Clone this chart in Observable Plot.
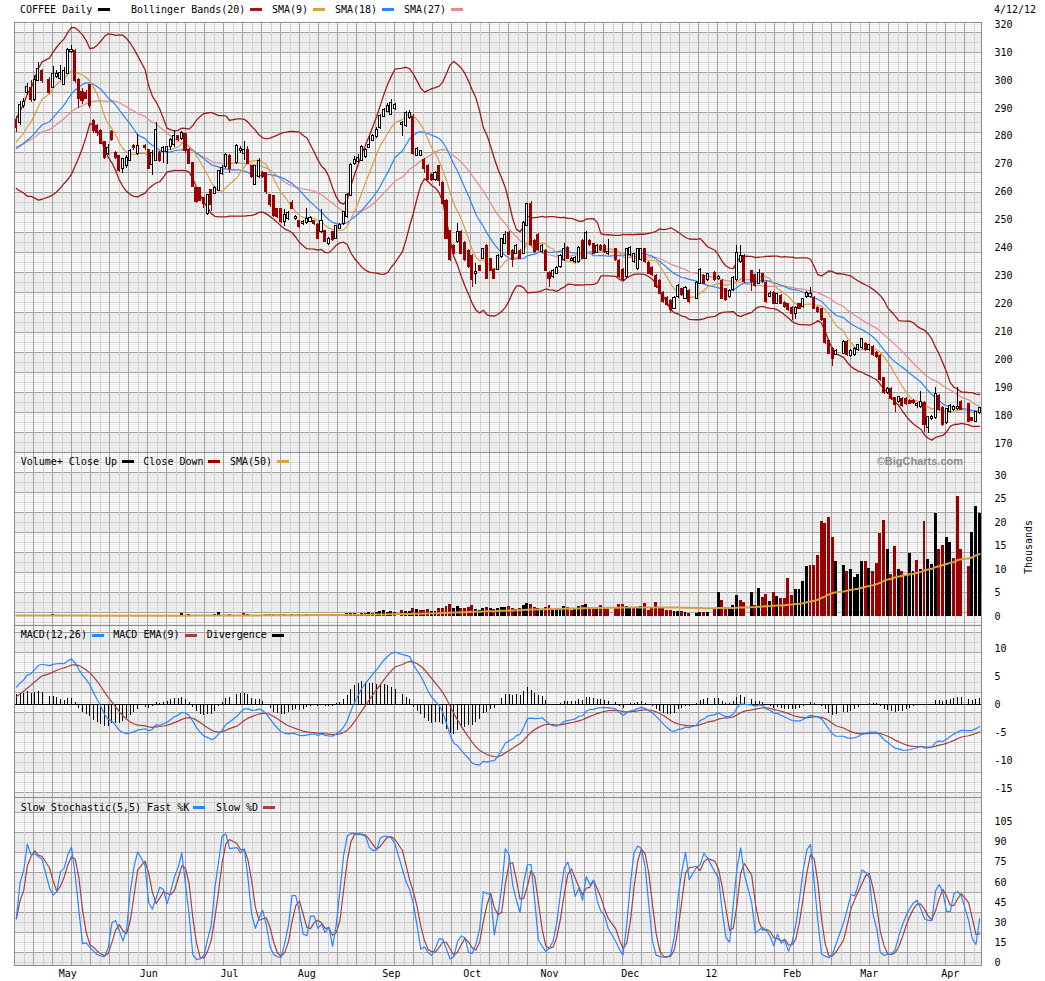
<!DOCTYPE html>
<html>
<head>
<meta charset="utf-8">
<script src="https://cdn.jsdelivr.net/npm/d3@7"></script>
<script src="https://cdn.jsdelivr.net/npm/@observablehq/plot@0.6"></script>
<style>
  body { margin: 0; background: #fff; }
  #chart { position: relative; width: 1045px; height: 981px; font: 10px "DejaVu Sans Mono", monospace; color: #000; }
  #chart svg { position: absolute; left: 0; }
  .lbl { position: absolute; white-space: pre; line-height: 12px; }
  .sw { position: absolute; width: 12px; height: 3px; }
</style>
</head>
<body>
<div id="chart"></div>
<script>
// one slot per weekday, 4/12/11 .. 4/12/12; null = market closed
const opens = [
  285.7, 285, 291, 295.5, 297, 293, 300, 303, null, 300,
  297.6, 301.5, 300.5, 298.6, 302.4, 310.3, 310.5, 300, 295.8, 295.2,
  298.2, 285.1, 283.6, 281.8, 277.9, 274, 281.5, 273.8, 272.6, 268.5,
  269.5, 271.4, 276.5, 273.8, null, 276.5, 274.8, 270, 271.4, 273.8,
  274.5, 274.5, 276.2, 277, 279.8, 279.2, 280.6, 275, 270.2, 261.3,
  261.3, 257.7, 252.4, 260.7, 259.5, 260.7, 266.7, 269, 272.9, null,
  270.5, 274.8, 274, 275, 269, 262.9, 265.5, 266.7, 266.7, 258.9,
  258.3, 253.6, 253.6, 249.4, 250.6, 256, 250.6, 249.4, 248.8, 249,
  249.4, 249.4, 248.2, 245.8, 245.8, 241.7, 245.5, 243.5, 247, 248.8,
  251.2, 258.9, 270.2, 271, 271.4, 272.6, 276, 278.6, 279.8, 283.1,
  287.2, 289, 287.9, 289.9, null, 284.2, 283.9, 286.7, 286.7, 273.2,
  273.2, 271.4, 269.3, 266.1, 264.5, 269, 263.1, 256.6, 245.8, 240.5,
  242.3, 245.5, 241.7, 238.7, 236.9, 230.8, 233.3, 236.3, 240.5, 235.7,
  232.1, 232.4, 236.9, 241.7, 245.2, 238.7, 238.1, 238.7, 238.1, 248.2,
  255.4, 242.3, 244.6, 238.7, 238.7, 231, 229.8, 231, 233.3, 235.7,
  239.9, 235.5, 235.1, 235.1, 242.3, 236.3, 242.3, 241.1, 238.5, 240.5,
  240.5, 237.9, null, 239.3, 235.1, 232.1, 229.8, 237.5, 235, 232.7,
  235.7, 239.3, 234.5, 232.7, 229.8, 228, 223.8, 222, 220.8, 218.5,
  222.6, 225, 222, 224.4, null, 222, 227.4, 229.8, 228.6, null,
  231, 229, 228, 225, 222.5, 225, 228.6, 235, 236.9, null,
  231.5, 230, 227.4, 230.5, 227.4, 222.8, 223.8, 220.2, 222.6, 220.2,
  219.6, 218.5, 216.7, 219.6, 219, 222.6, 222.6, 222, 218.5, 217.9,
  214.3, 206.5, 203.6, 202, null, 202.4, 206.2, 201.4, 201.8, 203.6,
  204.2, 205.4, 203.6, 204.5, 202.4, 201.2, 193.1, 188.1, 189.5, 186,
  185.1, 185.7, 185.7, 185.1, 185, 183.6, 183.3, 184.5, 175.6, 178.8,
  179.2, 186.9, 182.7, 177.4, 181.5, 182, 182.5, 184.8, null, 183.9,
  178.8, 178, 181
];
const highs = [
  287, 292.5, 293.5, 299, 300, 301.8, 306.3, 304, null, 301,
  304.8, 303.5, 305.5, 304.5, 311.5, 312.5, 311, 300.5, 297, 296.2,
  298.5, 286, 284.2, 282.3, 278.2, 277, 282, 274.5, 273, 272.2,
  273, 275.2, 277, 280.5, null, 277, 275.2, 275, 284.9, 274.5,
  276.2, 276.2, 279.2, 282, 280.4, 281.8, 281, 275.5, 270.5, 261.8,
  261.8, 258.2, 259.2, 261, 262, 267.8, 269.5, 273.8, 273.3, null,
  277, 276.5, 278, 276.3, 269.5, 269.5, 272, 267.2, 267, 259.2,
  258.6, 254, 254, 253.6, 253, 257, 251.5, 250, 249.8, 254.2,
  251.2, 250, 248.6, 253.6, 246.2, 243.8, 246, 248.2, 248.8, 253.2,
  259.5, 270.2, 272.6, 273.5, 276.6, 275.6, 280, 280.8, 283, 287.8,
  290, 291.8, 293, 291.8, null, 285.2, 288.9, 289.2, 287.8, 276,
  275, 272, 269.9, 266.7, 267.3, 269.6, 263.7, 257.2, 246.4, 241.1,
  248.8, 246.1, 242.3, 239.3, 237.5, 234.6, 233.9, 239.9, 241.1, 236.3,
  232.7, 237.5, 243.5, 245.8, 245.8, 239.3, 241.1, 239.3, 249.4, 256,
  256.5, 242.9, 245.2, 241.1, 239.3, 231.6, 232.2, 233.3, 237.5, 241.5,
  240.5, 236.5, 236.9, 240.5, 242.9, 245.8, 242.9, 241.7, 241.1, 241.1,
  241.1, 242.9, null, 239.9, 235.7, 232.7, 239.9, 240.5, 238.1, 239.9,
  239.9, 239.9, 235.1, 233.3, 230.4, 228.6, 224.4, 222.6, 221.4, 222.6,
  226.8, 225.6, 226.2, 225, null, 228, 232.7, 230.4, 231, null,
  231.6, 230, 228.6, 225.6, 225.1, 229.8, 241, 241, 237.5, null,
  232, 230.5, 232.2, 231, 228, 224.4, 224.4, 223.8, 223.2, 220.8,
  220.2, 219.1, 219.1, 220.2, 222, 224.4, 226, 222.6, 219.1, 218.5,
  214.9, 207.1, 204.2, 203.6, null, 206.8, 206.8, 203.6, 204.2, 205.6,
  207.7, 206, 205.6, 205.1, 203, 201.8, 193.7, 190.1, 190.1, 186.6,
  186.9, 186.3, 186.3, 185.7, 185.6, 184.6, 188.7, 185.1, 179.8, 180,
  190, 187.5, 183.3, 182.7, 183.9, 183.6, 190, 185.4, null, 184.5,
  179.4, 181.6, 183
];
const lows = [
  281.5, 284, 290, 294.5, 292, 292.5, 299.5, 299, null, 295,
  297, 300.5, 300, 298, 302, 309.5, 299, 290, 291.5, 293,
  290, 281, 280, 277, 271.5, 273, 278, 271.5, 267, 266.5,
  268.5, 271, 275, 273, null, 275, 268, 266, 271, 270.5,
  270.3, 270, 275, 276, 278, 278.5, 274, 269.8, 261.5, 256,
  256.5, 254, 251.8, 253, 259, 260.2, 266, 268.5, 266.7, null,
  270, 274, 271.4, 270, 265, 262.5, 265, 265, 259, 254.5,
  251, 250.5, 248.8, 247.6, 250, 253.6, 250, 247, 248.2, 248.5,
  249, 248, 243, 245.2, 241.8, 241, 242.3, 243, 246.5, 248.2,
  250.6, 258.3, 269.5, 270.2, 270.8, 272, 275.5, 278, 279.2, 282.5,
  286.6, 288.4, 287.3, 289.3, null, 280, 283.3, 286.1, 273.2, 272.6,
  272.6, 266.5, 264, 263.9, 263.9, 262, 255.4, 243, 235, 237.5,
  241.7, 237.5, 235, 232.7, 226, 227, 231.5, 235.7, 228.6, 231.5,
  228.6, 231.8, 236.3, 241.1, 237.2, 233, 237.5, 235.7, 237.5, 247.6,
  240.5, 238.1, 238.7, 238.1, 231.5, 226, 229.2, 230.4, 232.7, 235.1,
  235.7, 235, 234.5, 234.5, 235.7, 235.7, 240.5, 237.5, 237.9, 238.7,
  238.1, 237.3, null, 235.1, 229.2, 228, 229.2, 236.9, 234.4, 232.1,
  235.1, 234.5, 230.4, 229.8, 225.6, 223.2, 220.2, 219, 216.5, 217.9,
  222, 222.6, 221.4, 220.2, null, 221.4, 226.8, 226.8, 228, null,
  228, 228.4, 221.4, 220.8, 221.9, 224.4, 228, 234.4, 227.4, null,
  224.5, 226, 226.8, 227.4, 220.2, 222.2, 219.6, 219.6, 219.6, 218.4,
  217.3, 214, 214.3, 217.9, 218.4, 222, 222, 217.9, 216.7, 213.7,
  205.4, 201.8, 197.6, 201.4, null, 201.8, 201.2, 200.8, 201.2, 203,
  203.6, 203, 203, 201.2, 200.4, 192.3, 187.5, 187.5, 185.4, 181,
  184.5, 183, 183.6, 183.8, 184, 182.4, 182.7, 174, 173.5, 178.2,
  178.6, 181.5, 176.2, 176.8, 180.9, 181.4, 181.9, 181.7, null, 177.4,
  177.7, 177.4, 180.4
];
const closes = [
  283.3, 291, 292, 297.6, 293, 300, 304, 300, null, 295.8,
  302, 302.2, 302.5, 303, 310.7, 310.8, 300, 293.5, 292.9, 293.5,
  291.1, 281.9, 281.5, 277.4, 272.4, 275.6, 278.8, 272.4, 267.9, 271.7,
  272, 274.4, 275.8, 276.2, null, 275.8, 268.5, 274, 282.1, 271.4,
  275.5, 276, 278.6, 279.8, 278.8, 280.9, 275, 270.2, 261.9, 256.5,
  257.1, 255.9, 258.9, 255.4, 261.3, 267.3, 268.5, 273.2, 268.5, null,
  276.4, 275.4, 275, 270.2, 265.5, 269, 270.8, 265.5, 260.1, 255.4,
  251.8, 251.2, 249.4, 251.8, 252.4, 254.2, 251, 247.6, 249.2, 250.2,
  250.6, 248.6, 243.5, 249.6, 242.3, 243.1, 242.9, 247.6, 248.2, 252.6,
  258.9, 269.6, 271.4, 272, 276, 275, 276.8, 279.8, 282.1, 287.2,
  289.3, 290.7, 291.9, 291.1, null, 284.6, 288.3, 288.3, 273.8, 275.2,
  274.4, 268.5, 264.5, 264.5, 266.7, 264.3, 256, 243.5, 235.7, 238.1,
  245.5, 238.1, 235.7, 233.3, 228.6, 231.2, 232.1, 239.3, 229.2, 232.1,
  229.2, 236.9, 242.9, 244.6, 237.8, 235.7, 240.5, 236.3, 248.8, 255.4,
  241.1, 238.7, 239.3, 240.5, 232.1, 229.2, 231.6, 232.7, 236.9, 239.3,
  236.3, 235.9, 236.3, 239.9, 236.3, 245.2, 241.1, 238.1, 240.5, 239.3,
  238.7, 238.3, null, 235.7, 229.8, 228.6, 239.3, 239.9, 237.5, 239.3,
  239.3, 235.1, 231, 230.4, 226.2, 223.8, 220.8, 219.6, 217.9, 222,
  226.2, 223.2, 225.6, 220.8, null, 227.4, 232.1, 227.4, 230.4, null,
  228.6, 229.4, 222, 221.4, 224.5, 229.2, 238.1, 237, 228, null,
  228, 226.5, 231, 228, 220.8, 223.5, 220.2, 223.2, 220.2, 219,
  217.9, 216.7, 218.5, 218.5, 221.4, 223.8, 223.5, 218.5, 217.3, 214.3,
  206, 202.4, 200.6, 203, null, 206.2, 201.8, 203, 203.6, 205,
  207.1, 203.6, 205, 201.8, 201, 192.9, 188.1, 189.5, 186, 183.9,
  186.3, 183.6, 184.2, 184.4, 184.6, 184, 184.8, 176.8, 179.2, 179.3,
  187.5, 182.1, 176.8, 182.1, 183.3, 183, 182.8, 182.3, null, 178,
  178.3, 181, 182.4
];
// thousands of contracts
const volumes = [
  0.1, 0.15, 0.1, 0.2, 0.15, 0.1, 0.2, 0.1, null, 0.15,
  0.35, 0.15, 0.3, 0.1, 0.2, 0.15, 0.1, 0.2, 0.15, 0.1,
  0.15, 0.1, 0.2, 0.15, 0.1, 0.2, 0.1, 0.15, 0.2, 0.1,
  0.3, 0.15, 0.1, 0.2, null, 0.15, 0.2, 0.1, 0.2, 0.15,
  0.3, 0.15, 0.2, 0.3, 0.2, 0.7, 0.2, 0.35, 0.25, 0.2,
  0.2, 0.25, 0.2, 0.2, 0.35, 0.8, 0.2, 0.25, 0.35, null,
  0.3, 0.3, 0.7, 0.35, 0.3, 0.25, 0.3, 0.3, 0.4, 0.35,
  0.4, 0.3, 0.45, 0.35, 0.3, 0.4, 0.3, 0.35, 0.3, 0.4,
  0.35, 0.3, 0.5, 0.4, 0.45, 0.35, 0.4, 0.5, 0.4, 0.45,
  0.6, 0.7, 0.6, 0.5, 0.7, 0.6, 0.8, 0.7, 0.9, 1.0,
  1.2, 0.9, 1.0, 0.8, null, 1.3, 1.0, 1.1, 1.8, 1.4,
  1.2, 1.3, 1.5, 1.1, 1.0, 1.6, 1.7, 2.1, 2.6, 1.8,
  2.1, 1.7, 1.8, 1.9, 2.3, 1.5, 1.3, 1.8, 2.0, 1.6,
  1.5, 1.7, 1.9, 2.0, 2.2, 1.7, 1.5, 1.6, 2.4, 2.8,
  2.6, 1.9, 1.7, 1.4, 2.0, 2.3, 1.5, 1.4, 1.8, 2.1,
  1.9, 1.2, 1.4, 2.2, 2.4, 2.5, 1.9, 1.8, 1.6, 2.3,
  1.8, 1.4, null, 1.9, 2.6, 2.5, 2.2, 1.6, 1.8, 2.0,
  2.2, 2.7, 1.3, 1.6, 3.0, 2.0, 1.8, 1.3, 1.3, 1.1,
  1.1, 1.1, 0.9, 0.6, null, 0.6, 0.8, 0.8, 0.9, null,
  1.8, 5.2, 3.3, 1.6, 1.6, 2.3, 4.5, 3.4, 3.0, null,
  5.0, 2.3, 6.0, 4.1, 4.7, 3.2, 5.2, 4.3, 3.8, 3.8,
  8.0, 4.5, 5.7, 5.8, 7.5, 10.7, 10.9, 10.9, 13.0, 20.3,
  19.7, 21.1, 16.9, 11.8, null, 10.9, 9.6, 9.9, 8.4, 8.9,
  11.8, 11.8, 10.3, 9.6, 11.2, 17.6, 20.4, 14.3, 8.9, 14.8,
  10.0, 9.6, 8.7, 13.3, 9.6, 11.9, 10.0, 20.3, 12.1, 11.1,
  22.0, 14.2, 15.0, 16.9, 15.8, 12.4, 25.6, 14.3, null, 10.7,
  17.8, 23.5, 22.0
];
const monthLabels = ["May", "Jun", "Jul", "Aug", "Sep", "Oct", "Nov", "Dec", "12", "Feb", "Mar", "Apr"];
const priceTicks = d3.range(170, 321, 10);
const volumeTicks = [0, 5, 10, 15, 20, 25, 30];
const macdTicks = [-15, -10, -5, 0, 5, 10];
const stochTicks = [0, 15, 30, 45, 60, 75, 90, 105];

// indicator levels at the first slot (history before it is not shown)
const sma9Start = 278, sma18Start = 275.6, sma27Start = 276.2;
const bandMidStart = 273.8, bandHalfStart = 12.5;
const volSmaStart = 0.2, macdStart = 3.1, macdEmaStart = 1.4;

// weekday slots
const slotDates = [];
for (let d = new Date(2011, 3, 12); d <= new Date(2012, 3, 12); d.setDate(d.getDate() + 1)) {
  if (d.getDay() !== 0 && d.getDay() !== 6) slotDates.push(new Date(d));
}
const nSlots = slotDates.length;
const monthStarts = [];
slotDates.forEach((d, i) => { if (i > 0 && d.getMonth() !== slotDates[i - 1].getMonth()) monthStarts.push(i + 0.5); });
const monthLabelAt = new Map(monthStarts.map((x, i) => [x, monthLabels[i]]));

const bars = [];
for (let i = 0; i < nSlots; i++) {
  if (closes[i] == null) continue;
  bars.push({s: i, xc: i + 0.5, o: opens[i], h: highs[i], l: lows[i], c: closes[i], v: volumes[i]});
}
const cl = bars.map(d => d.c);

function seededSMA(xs, k, first) {
  const p = (k * first - xs[0]) / (k - 1); // mean of the unseen days
  return xs.map((_, t) => {
    let s = 0;
    for (let j = t - k + 1; j <= t; j++) s += j < 0 ? p : xs[j];
    return s / k;
  });
}
function seededBands(xs, k, mid0, half0) {
  const p = (k * mid0 - xs[0]) / (k - 1);
  const sd0 = half0 / 2;
  const q = (k * (sd0 * sd0 + mid0 * mid0) - xs[0] * xs[0]) / (k - 1);
  return xs.map((_, t) => {
    let s = 0, s2 = 0;
    for (let j = t - k + 1; j <= t; j++) {
      if (j < 0) { s += p; s2 += q; } else { s += xs[j]; s2 += xs[j] * xs[j]; }
    }
    const m = s / k, sd = Math.sqrt(Math.max(0, s2 / k - m * m));
    return [m + 2 * sd, m - 2 * sd];
  });
}
function ema(xs, k, first) {
  const a = 2 / (k + 1);
  let e;
  return xs.map((x, t) => (e = t === 0 ? first : e + a * (x - e)));
}
function sma(xs, k) {
  return xs.map((_, t) => d3.mean(xs.slice(Math.max(0, t - k + 1), t + 1)));
}

const sma9 = seededSMA(cl, 9, sma9Start);
const sma18 = seededSMA(cl, 18, sma18Start);
const sma27 = seededSMA(cl, 27, sma27Start);
const bands = seededBands(cl, 20, bandMidStart, bandHalfStart);
const volSma = seededSMA(bars.map(d => d.v), 50, volSmaStart);
const ema12 = ema(cl, 12, sma27Start + macdStart);
const ema26 = ema(cl, 26, sma27Start);
const macd = ema12.map((v, i) => v - ema26[i]);
const signal = ema(macd, 9, macdEmaStart);
const rawK = bars.map((d, t) => {
  const w = bars.slice(Math.max(0, t - 4), t + 1);
  const hh = d3.max(w, b => b.h), ll = d3.min(w, b => b.l);
  return hh > ll ? 100 * (d.c - ll) / (hh - ll) : 50;
});
const fastK = sma(rawK, 3);
const slowD = sma(fastK, 3);

bars.forEach((d, t) => {
  d.up = t === 0 ? d.c >= d.o : d.c >= bars[t - 1].c;
  d.sma9 = sma9[t]; d.sma18 = sma18[t]; d.sma27 = sma27[t];
  d.bbUp = bands[t][0]; d.bbLo = bands[t][1];
  d.volSma = volSma[t];
  d.macd = macd[t]; d.signal = signal[t]; d.hist = macd[t] - signal[t];
  d.k = fastK[t]; d.d = slowD[t];
});

const RED = "#990000", BAND = "#9e1a1a", GOLD = "#d6a13f", BLUE = "#2a84ff", PINK = "#e48b8b", BROWN = "#a3423d";

// BigCharts-style background: pixel grid fixed to the page, not to the data
function gridMark(pageTop) {
  return (index, scales, values, dim) => {
    const g = d3.create("svg:g");
    const left = dim.marginLeft, right = dim.width - dim.marginRight;
    const top = dim.marginTop, bottom = dim.height - dim.marginBottom;
    g.append("rect").attr("x", left).attr("y", top).attr("width", right - left).attr("height", bottom - top).attr("fill", "#ececec");
    for (let band = 12; band < 1000; band += 40) {
      for (let yy = band + 1; yy < band + 20; yy += 2) {
        const ly = yy - pageTop + 0.5;
        if (ly > top && ly < bottom)
          g.append("line").attr("x1", left).attr("x2", right).attr("y1", ly).attr("y2", ly).attr("stroke", "#fff");
      }
    }
    for (let gy = 2; gy < 1000; gy += 10) {
      const ly = gy - pageTop + 0.5;
      if (ly <= top || ly >= bottom) continue;
      const dark = (gy - 32) % 20 === 0;
      g.append("line").attr("x1", left).attr("x2", right).attr("y1", ly).attr("y2", ly)
        .attr("stroke", dark ? "#a2a2a2" : "#d2d2d2");
    }
    for (let k = 1; 14 + 9.5 * k < right; k++) {
      const x = Math.round(14 + 9.5 * k) + 0.5;
      g.append("line").attr("x1", x).attr("x2", x).attr("y1", top).attr("y2", bottom)
        .attr("stroke", k % 2 ? "#d2d2d2" : "#a2a2a2");
    }
    return g.node();
  };
}

const common = {
  width: 1045, marginLeft: 14, marginRight: 64,
  x: {domain: [0, nSlots], axis: null},
  style: {fontFamily: '"DejaVu Sans Mono", monospace', fontSize: "10px", background: "transparent", overflow: "visible", color: "#000"}
};
const yAxis = ticks => Plot.axisY({anchor: "right", ticks, tickSize: 0, tickPadding: 13, tickFormat: d => String(d), label: null});

const price = Plot.plot({
  ...common, height: 452, marginTop: 22, marginBottom: 0,
  y: {domain: [166.78, 320.72], axis: null},
  marks: [
    gridMark(0),
    Plot.line(bars, {x: "xc", y: "bbUp", stroke: BAND, strokeWidth: 1.3}),
    Plot.line(bars, {x: "xc", y: "bbLo", stroke: BAND, strokeWidth: 1.3}),
    Plot.line(bars, {x: "xc", y: "sma27", stroke: PINK, strokeWidth: 1.2}),
    Plot.line(bars, {x: "xc", y: "sma18", stroke: BLUE, strokeWidth: 1.2}),
    Plot.line(bars, {x: "xc", y: "sma9", stroke: GOLD, strokeWidth: 1.2}),
    Plot.ruleX(bars, {x: "xc", y1: "l", y2: "h", stroke: d => d.c >= d.o ? "#000" : RED, shapeRendering: "crispEdges"}),
    Plot.rect(bars, {
      x1: d => d.s + 0.22, x2: d => d.s + 0.78, y1: "o", y2: "c",
      fill: d => d.c >= d.o ? "#fff" : RED, stroke: d => d.c >= d.o ? "#000" : RED,
      strokeWidth: 1, insetTop: -0.5, insetBottom: -0.5, shapeRendering: "crispEdges"
    }),
    yAxis(priceTicks),
    Plot.frame({stroke: "#8c8c8c"})
  ]
});

const volume = Plot.plot({
  ...common, height: 173, marginTop: 0, marginBottom: 0,
  y: {domain: [-1.915, 34.89], axis: null},
  marks: [
    gridMark(452),
    Plot.rectY(bars, {x1: d => d.s + 0.1, x2: d => d.s + 0.9, y1: 0, y2: "v", fill: d => d.up ? "#000" : RED, shapeRendering: "crispEdges"}),
    Plot.line(bars, {x: "xc", y: "volSma", stroke: GOLD, strokeWidth: 2}),
    yAxis(volumeTicks),
    Plot.frame({stroke: "#8c8c8c"})
  ]
});

const macdPlot = Plot.plot({
  ...common, height: 172, marginTop: 0, marginBottom: 0,
  y: {domain: [-16.607, 14.107], axis: null},
  marks: [
    gridMark(625),
    Plot.ruleX(bars, {x: "xc", y1: 0, y2: "hist", stroke: "#000", strokeWidth: 1, shapeRendering: "crispEdges"}),
    Plot.ruleY([0], {stroke: "#000", shapeRendering: "crispEdges"}),
    Plot.line(bars, {x: "xc", y: "signal", stroke: BROWN, strokeWidth: 1.2}),
    Plot.line(bars, {x: "xc", y: "macd", stroke: BLUE, strokeWidth: 1.2}),
    yAxis(macdTicks),
    Plot.frame({stroke: "#8c8c8c"})
  ]
});

const stoch = Plot.plot({
  ...common, height: 184, marginTop: 0, marginBottom: 16,
  y: {domain: [-2.245, 123.49], axis: null},
  marks: [
    gridMark(797),
    Plot.line(bars, {x: "xc", y: "d", stroke: BROWN, strokeWidth: 1.2}),
    Plot.line(bars, {x: "xc", y: "k", stroke: BLUE, strokeWidth: 1.2}),
    yAxis(stochTicks),
    Plot.axisX({ticks: monthStarts, tickFormat: d => monthLabelAt.get(d), tickSize: 0, tickPadding: 4, label: null}),
    Plot.frame({stroke: "#8c8c8c"})
  ]
});

const chart = document.getElementById("chart");
[[price, 0], [volume, 452], [macdPlot, 625], [stoch, 797]].forEach(([svg, top]) => {
  svg.style.top = top + "px";
  chart.appendChild(svg);
});

function label(x, yc, text, extra) {
  const el = document.createElement("div");
  el.className = "lbl";
  el.textContent = text;
  el.style.left = x + "px";
  el.style.top = (yc - 6) + "px";
  if (extra) Object.assign(el.style, extra);
  chart.appendChild(el);
  return el;
}
function swatch(x, yc, color) {
  const el = document.createElement("div");
  el.className = "sw";
  el.style.left = x + "px";
  el.style.top = (yc - 1.5) + "px";
  el.style.background = color;
  chart.appendChild(el);
}

label(20, 9.5, "COFFEE Daily"); swatch(98, 9.5, "#000");
label(131, 9.5, "Bollinger Bands(20)"); swatch(250, 9.5, BAND);
label(272, 9.5, "SMA(9)"); swatch(313, 9.5, GOLD);
label(335, 9.5, "SMA(18)"); swatch(382, 9.5, BLUE);
label(404, 9.5, "SMA(27)"); swatch(451, 9.5, PINK);
label(994, 10, "4/12/12");

label(20.7, 461.5, "Volume+ Close Up"); swatch(121.7, 461.5, "#000");
label(143.3, 461.5, "Close Down"); swatch(208.3, 461.5, RED);
label(230, 461.5, "SMA(50)"); swatch(277, 461.5, GOLD);
label(0, 461, "©BigCharts.com", {left: "auto", right: (1045 - 963) + "px", font: 'bold 11px "Liberation Sans", Arial, sans-serif', color: "#8a8a8a"});
label(1029, 547, "Thousands", {transform: "translate(-50%, 0) rotate(-90deg)", transformOrigin: "center"});

label(20.7, 635, "MACD(12,26)"); swatch(91.7, 635, BLUE);
label(113.3, 635, "MACD EMA(9)"); swatch(185, 635, BROWN);
label(206.7, 635, "Divergence"); swatch(271.7, 635, "#000");

label(20.7, 807.7, "Slow Stochastic(5,5) Fast %K"); swatch(193, 807.7, BLUE);
label(216, 807.7, "Slow %D"); swatch(263, 807.7, BROWN);
</script>
</body>
</html>
